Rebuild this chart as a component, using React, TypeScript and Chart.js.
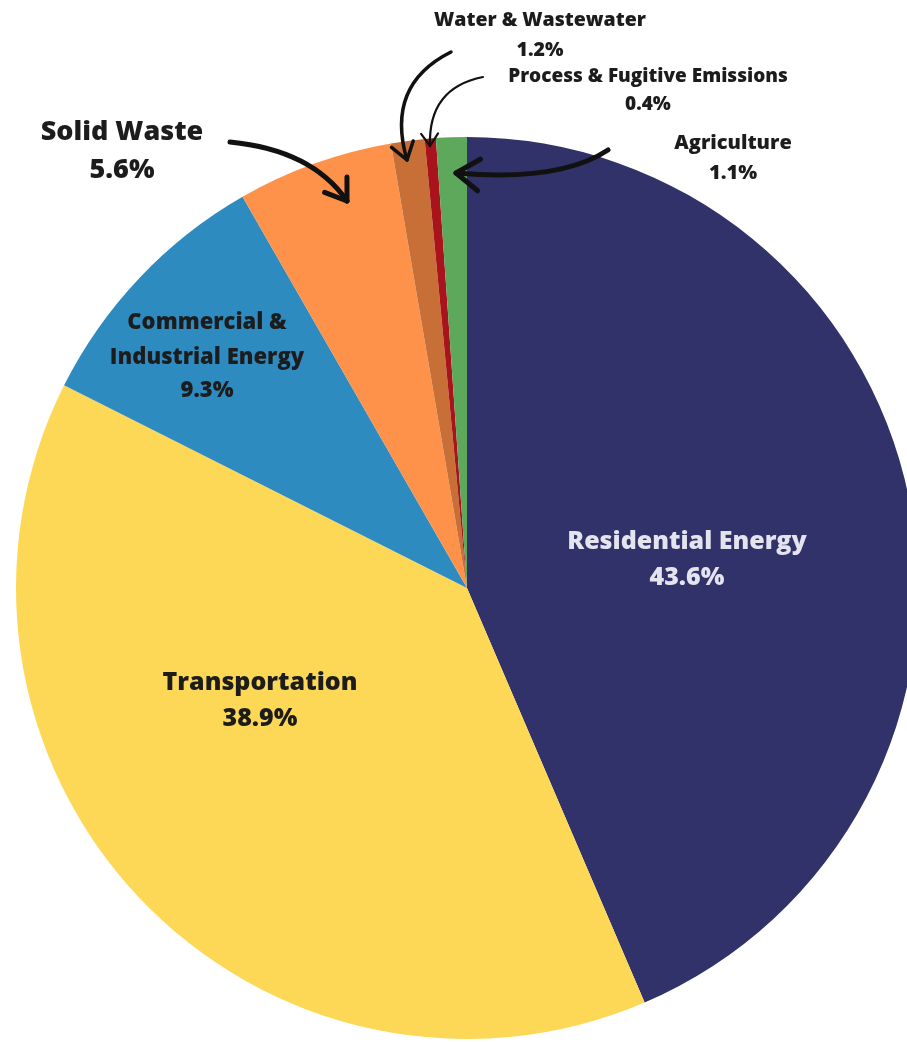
import React, { useEffect, useRef } from "react";
import { Chart, registerables } from "chart.js";

Chart.register(...registerables);

const categories = [
  "Residential Energy",
  "Transportation",
  "Commercial & Industrial Energy",
  "Solid Waste",
  "Water & Wastewater",
  "Process & Fugitive Emissions",
  "Agriculture",
];
const shares = [43.6, 38.9, 9.3, 5.6, 1.2, 0.4, 1.1];
const shareLabels = ["43.6%", "38.9%", "9.3%", "5.6%", "1.2%", "0.4%", "1.1%"];
const colors = ["#303269", "#FDD856", "#2E8BC0", "#FE924A", "#C86F37", "#A9141C", "#5DA85A"];

// label layout (annotation positions)
type Lbl = { lines: string[]; x: number; ys: number[]; size: number; color: string };
const labelLayout: Lbl[] = [
  { lines: ["Residential Energy", shareLabels[0]], x: 687, ys: [542, 578], size: 25, color: "#E4E4EE" },
  { lines: ["Transportation", shareLabels[1]], x: 260, ys: [683, 719], size: 25, color: "#1C1C1C" },
  { lines: ["Commercial &", "Industrial Energy", shareLabels[2]], x: 207, ys: [323, 358, 391], size: 22, color: "#1C1C1C" },
  { lines: ["Solid Waste", shareLabels[3]], x: 122, ys: [132, 170], size: 27, color: "#1C1C1C" },
  { lines: ["Water & Wastewater", shareLabels[4]], x: 540, ys: [20, 50], size: 19.5, color: "#1C1C1C" },
  { lines: ["Process & Fugitive Emissions", shareLabels[5]], x: 648, ys: [77, 105], size: 19, color: "#1C1C1C" },
  { lines: ["Agriculture", shareLabels[6]], x: 733, ys: [143, 173], size: 20, color: "#1C1C1C" },
];

type Arrow = { sx: number; sy: number; cx: number; cy: number; ex: number; ey: number; w: number; head: number };
const arrows: Arrow[] = [
  { sx: 230, sy: 142, cx: 312, cy: 150, ex: 347, ey: 201, w: 5, head: 24 },
  { sx: 451, sy: 52, cx: 385, cy: 85, ex: 407, ey: 160, w: 3.5, head: 20 },
  { sx: 483, sy: 77, cx: 428, cy: 88, ex: 430, ey: 146, w: 2.2, head: 15 },
  { sx: 608, sy: 150, cx: 560, cy: 182, ex: 456, ey: 173, w: 5, head: 28 },
];

const annotations = {
  id: "annotations",
  afterDatasetsDraw(chart: any) {
    const ctx = chart.ctx as CanvasRenderingContext2D;
    ctx.save();
    ctx.textAlign = "center";
    ctx.textBaseline = "middle";
    for (const l of labelLayout) {
      ctx.fillStyle = l.color;
      ctx.font = `800 ${l.size}px "Open Sans", sans-serif`;
      l.lines.forEach((t, i) => {
        ctx.fillText(t, l.x, l.ys[i]);
      });
    }
    ctx.strokeStyle = "#111";
    ctx.lineCap = "round";
    ctx.lineJoin = "round";
    for (const a of arrows) {
      ctx.lineWidth = a.w;
      ctx.beginPath();
      ctx.moveTo(a.sx, a.sy);
      ctx.quadraticCurveTo(a.cx, a.cy, a.ex, a.ey);
      ctx.stroke();
      const ang = Math.atan2(a.ey - a.cy, a.ex - a.cx);
      const spread = 0.6;
      ctx.beginPath();
      ctx.moveTo(a.ex - a.head * Math.cos(ang - spread), a.ey - a.head * Math.sin(ang - spread));
      ctx.lineTo(a.ex, a.ey);
      ctx.lineTo(a.ex - a.head * Math.cos(ang + spread), a.ey - a.head * Math.sin(ang + spread));
      ctx.stroke();
    }
    ctx.restore();
  },
};

export default function App() {
  const ref = useRef<HTMLCanvasElement | null>(null);
  useEffect(() => {
    if (!ref.current) return;
    const chart = new Chart(ref.current, {
      type: "pie",
      data: {
        labels: categories,
        datasets: [
          {
            data: shares,
            backgroundColor: colors,
            borderWidth: 0,
          },
        ],
      },
      options: {
        animation: false,
        responsive: false,
        devicePixelRatio: 1,
        layout: { padding: { left: 16, right: 16, top: 137, bottom: 3 } },
        plugins: { legend: { display: false }, tooltip: { enabled: false } },
      },
      plugins: [annotations],
    });
    return () => chart.destroy();
  }, []);
  return (
    <div style={{ position: "fixed", left: 0, top: 0, width: 907, height: 1042, overflow: "hidden", background: "#fff" }}>
      <canvas ref={ref} width={934} height={1042} style={{ display: "block" }} />
    </div>
  );
}
